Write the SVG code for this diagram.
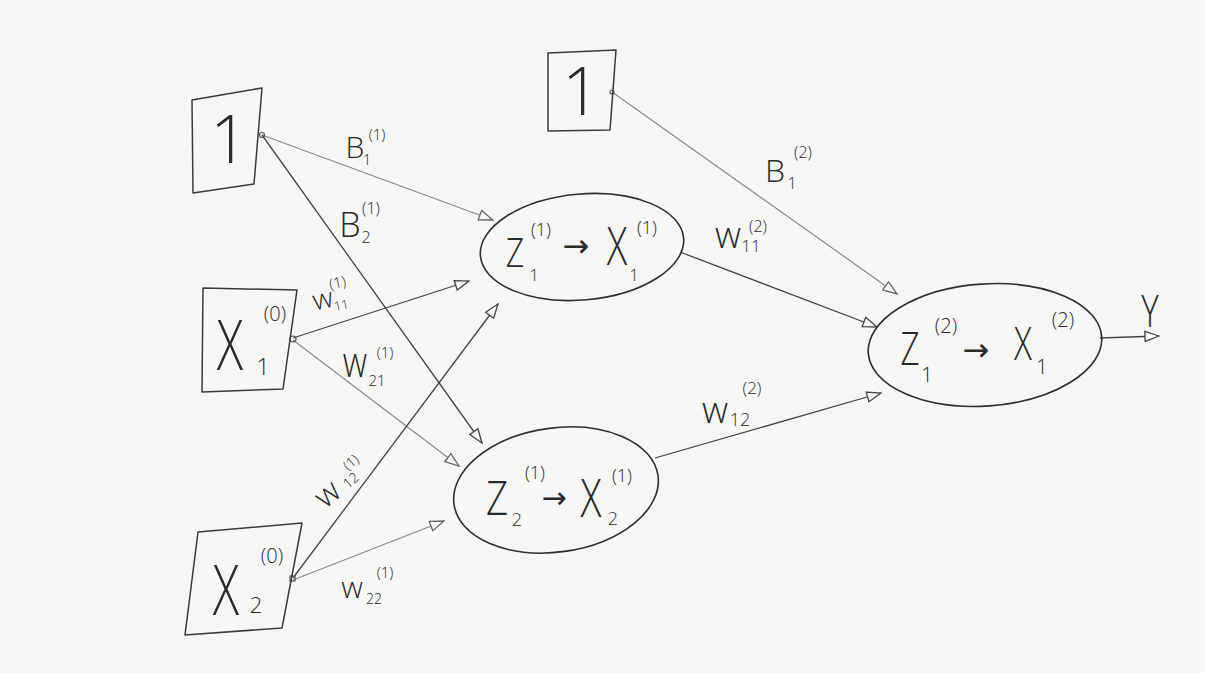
<svg xmlns="http://www.w3.org/2000/svg" width="1205" height="673" viewBox="0 0 1205 673">
<style>
.t{font-family:"Open Sans","DejaVu Sans","Liberation Sans",sans-serif;font-weight:300;fill:#2a2a2a;text-anchor:middle}
.a{font-family:"DejaVu Sans","Liberation Sans",sans-serif;font-weight:normal;fill:#2a2a2a;text-anchor:middle}
.box{fill:none;stroke:#3a3a3a;stroke-width:1.5;stroke-linejoin:round}
.node{fill:none;stroke:#2e2e2e;stroke-width:1.6}
.c{fill:none;stroke:#444;stroke-width:1.3;marker-end:url(#ah)}
.cl{fill:none;stroke:#8a8a8a;stroke-width:1.2;marker-end:url(#ahl)}
.dot{fill:none;stroke:#555;stroke-width:1.2}
</style>
<defs>
<marker id="ah" viewBox="0 0 16 12" refX="15" refY="6" markerWidth="16" markerHeight="12" markerUnits="userSpaceOnUse" orient="auto">
<path d="M1,1 L15,6 L1,11 Z" fill="#f6f6f4" stroke="#444" stroke-width="1.3"/>
</marker>
<marker id="ahl" viewBox="0 0 16 12" refX="15" refY="6" markerWidth="16" markerHeight="12" markerUnits="userSpaceOnUse" orient="auto">
<path d="M1,1 L15,6 L1,11 Z" fill="#f6f6f4" stroke="#666" stroke-width="1.3"/>
</marker>
</defs>
<rect x="0" y="0" width="1205" height="673" fill="#f6f6f4"/>

<g id="connectors">
<path id="e-b1-z1" class="cl" d="M262,135 L493,220"/>
<path id="e-b1-z2" class="c" d="M262,135 L482,443"/>
<path id="e-x1-z1" class="c" d="M293,338 L469,281"/>
<path id="e-x1-z2" class="cl" d="M293,340 L459,466"/>
<path id="e-x2-z1" class="c" d="M293,578 L498,304"/>
<path id="e-x2-z2" class="cl" d="M293,580 L444,521"/>
<path id="e-b2-y1" class="cl" d="M612,92 L897,294"/>
<path id="e-z1-y1" class="c" d="M680,252 L877,327"/>
<path id="e-z2-y1" class="c" d="M655,458 L881,393"/>
<path id="e-y1-out" class="c" d="M1100,338 L1159,336"/>
<circle class="dot" cx="262" cy="135" r="2.5"/>
<circle class="dot" cx="293" cy="339" r="3"/>
<rect class="dot" x="290" y="576" width="5" height="5"/>
<circle class="dot" cx="612" cy="92" r="2"/>
</g>

<g id="bias1">
<polygon class="box" points="192,100 262,88 254,184 193,193"/>
<text class="t" x="229" y="163" font-size="66">1</text>
</g>

<g id="bias2">
<polygon class="box" points="548,53 616,50 610,130 548,131"/>
<text class="t" x="581" y="115" font-size="66">1</text>
</g>

<g id="x1-0">
<polygon class="box" points="203,288 297,290 283,389 202,392"/>
<text class="t" font-size="70" transform="translate(230,370) scale(0.7,1)">X</text>
<text class="t" x="263" y="375" font-size="24">1</text>
<text class="t" x="275" y="321" font-size="20">(0)</text>
</g>

<g id="x2-0">
<polygon class="box" points="198,532 302,523 282,628 185,635"/>
<text class="t" font-size="70" transform="translate(226,615) scale(0.7,1)">X</text>
<text class="t" x="256" y="613" font-size="22">2</text>
<text class="t" x="272" y="563" font-size="20">(0)</text>
</g>

<g id="z1-1">
<ellipse class="node" cx="582" cy="247" rx="102" ry="53" transform="rotate(-5 582 247)"/>
<text class="t" font-size="40" transform="translate(515,267) scale(0.8,1)">Z</text>
<text class="t" x="534" y="281" font-size="17">1</text>
<text class="t" x="541" y="236" font-size="18">(1)</text>
<text class="a" x="576" y="257" font-size="32">→</text>
<text class="t" font-size="53" transform="translate(617,265) scale(0.72,1)">X</text>
<text class="t" x="634" y="281" font-size="17">1</text>
<text class="t" x="647" y="234" font-size="18">(1)</text>
</g>

<g id="z2-1">
<ellipse class="node" cx="556" cy="490" rx="103" ry="62" transform="rotate(-8 556 490)"/>
<text class="t" font-size="48" transform="translate(497,515) scale(0.8,1)">Z</text>
<text class="t" x="517" y="526" font-size="18">2</text>
<text class="t" x="535" y="479" font-size="18">(1)</text>
<text class="a" x="554" y="508" font-size="30">→</text>
<text class="t" font-size="54" transform="translate(591,517) scale(0.72,1)">X</text>
<text class="t" x="613" y="525" font-size="18">2</text>
<text class="t" x="622" y="482" font-size="18">(1)</text>
</g>

<g id="z1-2">
<ellipse class="node" cx="985" cy="345" rx="117" ry="61" transform="rotate(-4 985 345)"/>
<text class="t" font-size="46" transform="translate(910,365) scale(0.72,1)">Z</text>
<text class="t" x="927" y="382" font-size="21">1</text>
<text class="t" x="946" y="333" font-size="20">(2)</text>
<text class="a" x="976" y="361" font-size="32">→</text>
<text class="t" font-size="46" transform="translate(1023,360) scale(0.72,1)">X</text>
<text class="t" x="1042" y="374" font-size="21">1</text>
<text class="t" x="1063" y="327" font-size="20">(2)</text>
</g>

<g id="output-y">
<text class="t" font-size="44" transform="translate(1150,327) scale(0.75,1)">Y</text>
</g>

<g id="labels">
<g id="l-b11">
<text class="t" x="355" y="158" font-size="30">B</text>
<text class="t" x="367" y="165" font-size="15">1</text>
<text class="t" x="377" y="140" font-size="15">(1)</text>
</g>
<g id="l-b21">
<text class="t" x="350" y="237" font-size="34">B</text>
<text class="t" x="366" y="243" font-size="16">2</text>
<text class="t" x="371" y="214" font-size="16">(1)</text>
</g>
<g id="l-w11-1" transform="rotate(-12 330 300)">
<text class="t" x="323" y="307" font-size="28">w</text>
<text class="t" x="340" y="312" font-size="13">11</text>
<text class="t" x="341" y="290" font-size="15">(1)</text>
</g>
<g id="l-w21-1">
<text class="t" font-size="42" transform="translate(355,377) scale(0.8,1)">w</text>
<text class="t" x="377" y="386" font-size="15">21</text>
<text class="t" x="385" y="358" font-size="15">(1)</text>
</g>
<g id="l-w12-1">
<text class="t" font-size="32" transform="translate(334,502) rotate(-40)">w</text>
<text class="t" font-size="14" transform="translate(354,484) rotate(-40)">12</text>
<text class="t" font-size="14" transform="translate(354,466) rotate(-40)">(1)</text>
</g>
<g id="l-w22-1">
<text class="t" x="352" y="598" font-size="30">w</text>
<text class="t" x="374" y="604" font-size="14">22</text>
<text class="t" x="385" y="578" font-size="15">(1)</text>
</g>
<g id="l-b12">
<text class="t" x="775" y="182" font-size="32">B</text>
<text class="t" x="792" y="189" font-size="16">1</text>
<text class="t" x="803" y="158" font-size="16">(2)</text>
</g>
<g id="l-w11-2">
<text class="t" x="728" y="248" font-size="36">w</text>
<text class="t" x="751" y="252" font-size="17">11</text>
<text class="t" x="758" y="232" font-size="16">(2)</text>
</g>
<g id="l-w12-2">
<text class="t" x="715" y="423" font-size="36">w</text>
<text class="t" x="740" y="426" font-size="18">12</text>
<text class="t" x="752" y="394" font-size="17">(2)</text>
</g>
</g>
</svg>
